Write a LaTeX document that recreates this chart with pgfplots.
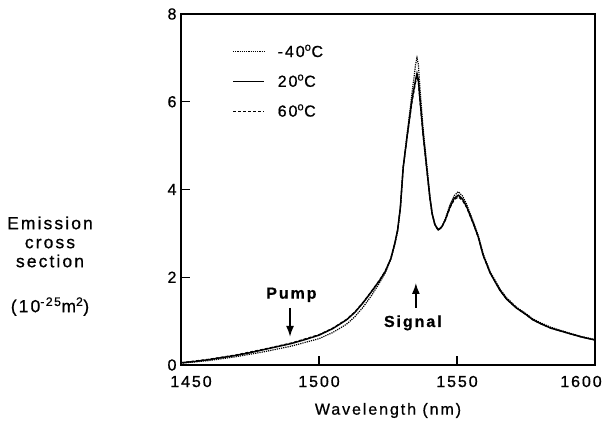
\documentclass[border=0pt]{standalone}
\usepackage{fontspec}
\setmainfont{Liberation Sans}[LetterSpace=12, FakeBold=0.8]
\usepackage{pgfplots}
\pgfplotsset{compat=1.18}
\usetikzlibrary{arrows.meta}

\begin{document}
\begin{tikzpicture}
\begin{axis}[
    name=ax,
    scale only axis,
    width=414pt, height=351pt,
    xmin=1450, xmax=1600,
    ymin=0, ymax=8,
    xtick={1450,1500,1550,1600},
    xticklabels={\makebox[0pt]{\hspace*{20pt}1450}, 1500, 1550, \makebox[0pt]{1600\hspace*{28pt}}},
    ytick={0,2,4,6,8},
    tick align=inside,
    major tick length=9pt,
    xtick pos=bottom, ytick pos=left,
    axis line style={line width=1.6pt},
    every tick/.style={line width=1.4pt, black},
    /pgf/number format/assume math mode=true,
    ticklabel style={font=\fontsize{16}{18}\selectfont},
    xticklabel style={yshift=-7pt, text height=11.5pt},
    yticklabel style={xshift=-1pt},
    xlabel={Wavelength (nm)},
    xlabel style={font=\fontsize{16}{18}\selectfont, yshift=-9pt},
    legend style={draw=none, fill=none, at={(axis cs:1468.5,7.35)}, anchor=north west,
        font=\fontsize{16}{18}\selectfont, row sep=12pt, column sep=11pt, inner sep=0pt},
    legend cell align=left,
    legend image code/.code={\draw[#1] (0pt,0pt) -- (31pt,0pt);},
]
% -40 C
\addplot[black, line width=1.2pt, densely dotted] coordinates {
(1450,0.04) (1460,0.10) (1470,0.19) (1480,0.30) (1490,0.43) (1500,0.60)
(1505,0.74) (1510,0.93) (1513,1.10) (1516,1.32) (1519,1.58) (1522,1.88) (1524,2.1)
(1526,2.4) (1527.5,2.75) (1528.5,3.05) (1529.5,3.6) (1530.5,4.5) (1532,5.3) (1533.7,6.2)
(1535,6.85) (1535.5,7.0) (1536,6.85) (1536.6,6.3) (1537.7,5.4) (1539,4.6)
(1540.2,3.85) (1541,3.45) (1542,3.2) (1543.2,3.08) (1544.5,3.15) (1545.7,3.32)
(1547.5,3.66) (1549,3.86) (1550.5,3.95) (1552,3.85) (1553.5,3.66) (1555.9,3.27)
(1557.7,2.95) (1559.5,2.53) (1562,2.13) (1565.5,1.74) (1568,1.53) (1571.5,1.32)
(1575,1.17) (1577.5,1.05) (1580,0.97) (1584,0.86) (1590,0.74) (1595,0.65) (1600,0.58)
};
\addlegendentry{-40\textsuperscript{o}C}
% 20 C
\addplot[black, line width=1.5pt] coordinates {
(1450,0.05) (1455,0.08) (1460,0.12) (1465,0.17) (1470,0.22) (1475,0.28)
(1480,0.35) (1485,0.42) (1490,0.49) (1495,0.58) (1500,0.68) (1505,0.83)
(1510,1.03) (1513,1.20) (1516,1.42) (1519,1.67) (1522,1.93) (1524,2.13)
(1526,2.42) (1527.5,2.78) (1528.5,3.08) (1529.5,3.6) (1530.5,4.5) (1532,5.25) (1533.7,6.05)
(1535,6.5) (1535.5,6.64) (1536,6.5) (1536.6,6.05) (1537.7,5.28) (1539,4.5)
(1540.2,3.8) (1541,3.45) (1542,3.2) (1543.2,3.08) (1544.5,3.15) (1545.7,3.30)
(1547.5,3.61) (1549,3.80) (1550.5,3.87) (1552,3.78) (1553.5,3.61) (1555.9,3.23)
(1557.7,2.92) (1559.5,2.5) (1562,2.1) (1565.5,1.71) (1568,1.5) (1571.5,1.30)
(1575,1.15) (1577.5,1.03) (1580,0.95) (1584,0.84) (1590,0.73) (1595,0.64) (1600,0.57)
};
\addlegendentry{20\textsuperscript{o}C}
% 60 C
\addplot[black, line width=1.2pt, dash pattern=on 3pt off 2pt] coordinates {
(1450,0.05) (1460,0.13) (1470,0.23) (1480,0.36) (1490,0.50) (1500,0.69)
(1505,0.84) (1510,1.04) (1513,1.21) (1516,1.43) (1519,1.68) (1522,1.94) (1524,2.14)
(1526,2.42) (1527.5,2.78) (1528.5,3.08) (1529.5,3.6) (1530.5,4.5) (1532,5.22) (1533.7,6.0)
(1535,6.45) (1535.5,6.58) (1536,6.45) (1536.6,6.0) (1537.7,5.25) (1539,4.48)
(1540.2,3.78) (1541,3.44) (1542,3.19) (1543.2,3.07) (1544.5,3.14) (1545.7,3.29)
(1547.5,3.59) (1549,3.77) (1550.5,3.83) (1552,3.75) (1553.5,3.59) (1555.9,3.22)
(1557.7,2.91) (1559.5,2.49) (1562,2.1) (1565.5,1.71) (1568,1.5) (1571.5,1.30)
(1575,1.15) (1577.5,1.03) (1580,0.95) (1584,0.84) (1590,0.73) (1595,0.64) (1600,0.57)
};
\addlegendentry{60\textsuperscript{o}C}

% annotations
\node[font=\bfseries\fontsize{16}{18}\selectfont] at (axis cs:1490,1.6) {Pump};
\draw[line width=1.6pt, -{Latex[length=11pt,width=8pt]}] (axis cs:1489.5,1.30) -- (axis cs:1489.5,0.64);
\node[font=\bfseries\fontsize{16}{18}\selectfont] at (axis cs:1534,0.96) {Signal};
\draw[line width=1.6pt, -{Latex[length=11pt,width=8pt]}] (axis cs:1535.1,1.30) -- (axis cs:1535.1,1.87);
\end{axis}
\node[anchor=north, align=center, font=\fontsize{17.5}{19}\selectfont]
    at ([xshift=-131pt,yshift=-199pt]ax.south west |- ax.north west) {Emission\\cross\\section\\[26pt](10\textsuperscript{-25}m\textsuperscript{2})};
\path ([xshift=-181pt,yshift=-60pt]ax.south west) rectangle ([xshift=16pt,yshift=14pt]ax.north east);
\end{tikzpicture}
\end{document}
